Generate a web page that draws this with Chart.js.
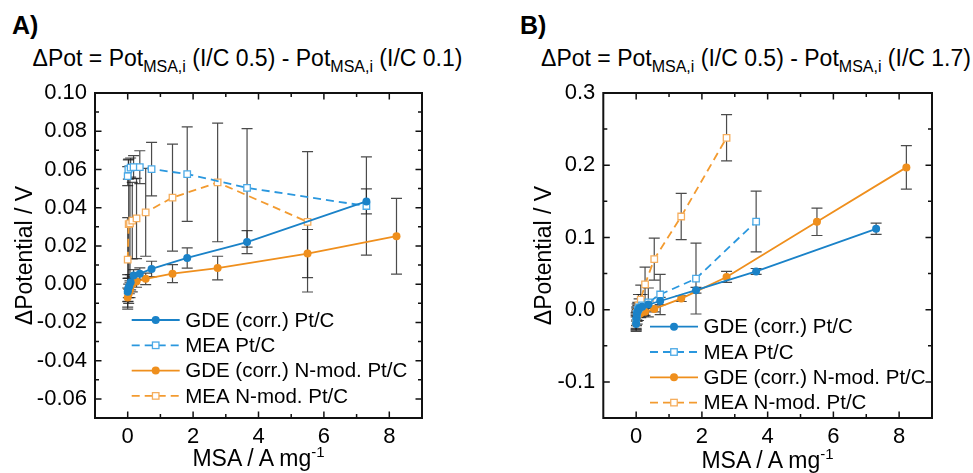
<!DOCTYPE html>
<html>
<head>
<meta charset="utf-8">
<script src="https://cdn.jsdelivr.net/npm/chart.js@4.4.1/dist/chart.umd.min.js"></script>
<style>
  html, body { margin: 0; padding: 0; background: #fff; }
  body { width: 973px; height: 473px; position: relative; overflow: hidden;
         font-family: "Liberation Sans", Arial, sans-serif; color: #000; }
  canvas { position: absolute; top: 0; }
  .tag { position: absolute; font-weight: bold; font-size: 25px; line-height: 1; }
  .ttl, .xt { position: absolute; font-size: 23px; line-height: 1; white-space: nowrap; transform: translateX(-50%); }
  .ttl sub { font-size: 16px; vertical-align: -6px; line-height: 0; }
  .xt sup { font-size: 15px; vertical-align: 9px; line-height: 0; }
</style>
</head>
<body>
<div class="tag" style="left:12px; top:13px">A)</div>
<div class="tag" style="left:520px; top:13px">B)</div>
<div class="ttl" style="left:247.5px; top:46.5px">&Delta;Pot = Pot<sub>MSA,i</sub> (I/C 0.5) - Pot<sub>MSA,i</sub> (I/C 0.1)</div>
<div class="ttl" style="left:756px; top:47px">&Delta;Pot = Pot<sub>MSA,i</sub> (I/C 0.5) - Pot<sub>MSA,i</sub> (I/C 1.7)</div>
<canvas id="chartA" width="486" height="473" style="left:0; width:486px; height:473px"></canvas>
<canvas id="chartB" width="487" height="473" style="left:486px; width:487px; height:473px"></canvas>
<div class="xt" style="left:258.5px; top:447px">MSA / A mg<sup>-1</sup></div>
<div class="xt" style="left:767.5px; top:449px">MSA / A mg<sup>-1</sup></div>
<script>
const FONT = '"Liberation Sans", Arial, sans-serif';

// axes
const xRange = [-1, 9];
const xTicks = [0, 2, 4, 6, 8];
const xTickLabels = ['0', '2', '4', '6', '8'];

const yRangeA = [-0.07, 0.10];
const yTicksA = [-0.06, -0.04, -0.02, 0, 0.02, 0.04, 0.06, 0.08, 0.10];
const yTickLabelsA = ['-0.06', '-0.04', '-0.02', '0.00', '0.02', '0.04', '0.06', '0.08', '0.10'];

const yRangeB = [-0.15, 0.3];
const yTicksB = [-0.1, 0, 0.1, 0.2, 0.3];
const yTickLabelsB = ['-0.1', '0.0', '0.1', '0.2', '0.3'];

const seriesNames = ['GDE (corr.) Pt/C', 'MEA Pt/C', 'GDE (corr.) N-mod. Pt/C', 'MEA N-mod. Pt/C'];

// panel A: I/C 0.5 - I/C 0.1
const xGdePtA = [0, 0.01, 0.02, 0.05, 0.09, 0.18, 0.37, 0.73, 1.82, 3.65, 7.3];
const yGdePtA = [-0.004, -0.003, -0.002, -0.001, 0.001, 0.0046, 0.0055, 0.008, 0.0137, 0.022, 0.0433];
const eGdePtA = [0.009, 0.006, 0.005, 0.004, 0.004, 0.003, 0.003, 0.004, 0.0053, 0.006, 0.0065];

const xMeaPtA = [0, 0.02, 0.09, 0.18, 0.37, 0.73, 1.82, 3.65, 7.3];
const yMeaPtA = [0.0565, 0.06, 0.061, 0.0612, 0.0612, 0.0602, 0.0576, 0.0504, 0.0409];
const eMeaPtA = [0.005, 0.005, 0.005, 0.006, 0.0086, 0.014, 0.0247, 0.031, 0.0257];

const xGdeNA = [0, 0.03, 0.07, 0.14, 0.27, 0.55, 1.37, 2.75, 5.5, 8.22];
const yGdeNA = [-0.007, -0.005, -0.003, 0.0, 0.0014, 0.0028, 0.0055, 0.0084, 0.016, 0.0251];
const eGdeNA = [0.005, 0.005, 0.004, 0.004, 0.003, 0.003, 0.0047, 0.0062, 0.0126, 0.0198];

const xMeaNA = [0, 0.03, 0.07, 0.14, 0.27, 0.55, 1.37, 2.75, 5.5];
const yMeaNA = [0.0128, 0.0314, 0.0318, 0.0332, 0.0344, 0.0376, 0.0453, 0.0532, 0.0326];
const eMeaNA = [0.022, 0.034, 0.03, 0.02, 0.021, 0.023, 0.028, 0.031, 0.0367];

// panel B: I/C 0.5 - I/C 1.7
const xGdePtB = [0, 0.01, 0.02, 0.05, 0.09, 0.18, 0.37, 0.73, 1.82, 3.65, 7.3];
const yGdePtB = [-0.02, -0.012, -0.006, -0.002, 0.002, 0.004, 0.007, 0.012, 0.027, 0.053, 0.112];
const eGdePtB = [0.01, 0.01, 0.008, 0.008, 0.006, 0.005, 0.005, 0.005, 0.004, 0.004, 0.0077];

const xMeaPtB = [0, 0.02, 0.05, 0.09, 0.18, 0.37, 0.73, 1.82, 3.65];
const yMeaPtB = [-0.016, -0.006, 0.0, 0.003, 0.006, 0.01, 0.021, 0.043, 0.122];
const eMeaPtB = [0.01, 0.01, 0.01, 0.012, 0.015, 0.02, 0.028, 0.049, 0.042];

const xGdeNB = [0, 0.03, 0.07, 0.14, 0.27, 0.55, 1.37, 2.75, 5.5, 8.22];
const yGdeNB = [-0.016, -0.01, -0.007, -0.005, -0.003, 0.001, 0.0153, 0.0453, 0.1217, 0.197];
const eGdeNB = [0.012, 0.01, 0.008, 0.006, 0.005, 0.004, 0.004, 0.0076, 0.019, 0.03];

const xMeaNB = [0, 0.03, 0.07, 0.14, 0.27, 0.55, 1.37, 2.75];
const yMeaNB = [-0.018, -0.004, 0.006, 0.014, 0.035, 0.07, 0.129, 0.238];
const eMeaNB = [0.01, 0.012, 0.015, 0.02, 0.024, 0.029, 0.032, 0.032];

const looks = [
  { color: '#1a82c8', dash: [], point: 'circle', fill: '#1a82c8', edge: '#1a82c8' },
  { color: '#2a97de', dash: [8, 5], point: 'rect', fill: '#ffffff', edge: '#4ba9e6' },
  { color: '#ef8f1d', dash: [], point: 'circle', fill: '#ef8f1d', edge: '#ef8f1d' },
  { color: '#f39b30', dash: [8, 5], point: 'rect', fill: '#ffffff', edge: '#f5ae5e' }
];

function series(i, xs, ys, errs) {
  const s = looks[i];
  const square = s.point === 'rect';
  return {
    label: seriesNames[i],
    data: xs.map((x, j) => ({ x, y: ys[j] })),
    errs,
    showLine: true,
    borderColor: s.color,
    borderWidth: 1.8,
    borderDash: s.dash,
    pointStyle: s.point,
    pointRadius: square ? 4.6 : 4,
    pointBackgroundColor: s.fill,
    pointBorderColor: s.edge,
    pointBorderWidth: square ? 1.3 : 0
  };
}

function minorsOf(scale) {
  const v = scale.ticks.map(t => t.value);
  const step = v[1] - v[0];
  const out = [];
  for (let i = 0; i < v.length - 1; i++) out.push((v[i] + v[i + 1]) / 2);
  if (v[0] - step / 2 > scale.min + 1e-9) out.push(v[0] - step / 2);
  if (v[v.length - 1] + step / 2 < scale.max - 1e-9) out.push(v[v.length - 1] + step / 2);
  return out;
}

// error bars under the markers, then legend and the closed box on top
const plotDecor = {
  id: 'plotDecor',
  beforeDatasetsDraw(chart) {
    const { ctx, chartArea: a } = chart;
    const sx = chart.scales.x, sy = chart.scales.y;
    ctx.save();
    ctx.beginPath();
    ctx.rect(a.left, a.top, a.right - a.left, a.bottom - a.top);
    ctx.clip();
    ctx.strokeStyle = 'rgba(35,35,35,0.82)';
    ctx.lineWidth = 1.2;
    chart.data.datasets.forEach(ds => {
      ds.data.forEach((p, j) => {
        const e = ds.errs[j];
        const px = sx.getPixelForValue(p.x);
        const top = sy.getPixelForValue(p.y + e);
        const bot = sy.getPixelForValue(p.y - e);
        ctx.beginPath();
        ctx.moveTo(px, top); ctx.lineTo(px, bot);
        ctx.moveTo(px - 5.5, top); ctx.lineTo(px + 5.5, top);
        ctx.moveTo(px - 5.5, bot); ctx.lineTo(px + 5.5, bot);
        ctx.stroke();
      });
    });
    ctx.restore();
  },
  afterDatasetsDraw(chart, args, opts) {
    drawLegend(chart, opts);
    drawBox(chart);
  }
};

function drawBox(chart) {
  const { ctx, chartArea: a } = chart;
  const sx = chart.scales.x, sy = chart.scales.y;
  ctx.save();
  ctx.setLineDash([]);
  ctx.strokeStyle = '#111';
  ctx.lineWidth = 1.5;
  const onX = (vals, len) => vals.forEach(v => {
    const p = sx.getPixelForValue(v);
    ctx.beginPath();
    ctx.moveTo(p, a.bottom); ctx.lineTo(p, a.bottom - len);
    ctx.moveTo(p, a.top); ctx.lineTo(p, a.top + len);
    ctx.stroke();
  });
  const onY = (vals, len) => vals.forEach(v => {
    const p = sy.getPixelForValue(v);
    ctx.beginPath();
    ctx.moveTo(a.left, p); ctx.lineTo(a.left + len, p);
    ctx.moveTo(a.right, p); ctx.lineTo(a.right - len, p);
    ctx.stroke();
  });
  onX(sx.ticks.map(t => t.value), 6.5);
  onX(minorsOf(sx), 4);
  onY(sy.ticks.map(t => t.value), 6.5);
  onY(minorsOf(sy), 4);
  ctx.lineWidth = 2;
  ctx.strokeRect(a.left, a.top, a.right - a.left, a.bottom - a.top);
  ctx.restore();
}

// legend drawn inside the plot box
function drawLegend(chart, opts) {
  const { ctx, chartArea: a } = chart;
  ctx.save();
  ctx.font = '20.5px ' + FONT;
  ctx.textBaseline = 'middle';
  chart.data.datasets.forEach((ds, i) => {
    const y0 = a.top + opts.dy + i * 25.3;
    const x0 = a.left + opts.dx;
    ctx.strokeStyle = ds.borderColor;
    ctx.lineWidth = ds.borderWidth;
    ctx.setLineDash(ds.borderDash);
    ctx.beginPath();
    ctx.moveTo(x0, y0); ctx.lineTo(x0 + 48, y0);
    ctx.stroke();
    ctx.setLineDash([]);
    const cx = x0 + 24;
    if (ds.pointStyle === 'rect') {
      const h = ds.pointRadius / Math.SQRT2;
      ctx.fillStyle = '#fff';
      ctx.fillRect(cx - h, y0 - h, 2 * h, 2 * h);
      ctx.strokeStyle = ds.pointBorderColor;
      ctx.lineWidth = ds.pointBorderWidth;
      ctx.strokeRect(cx - h, y0 - h, 2 * h, 2 * h);
    } else {
      ctx.fillStyle = ds.pointBackgroundColor;
      ctx.beginPath();
      ctx.arc(cx, y0, ds.pointRadius, 0, Math.PI * 2);
      ctx.fill();
    }
    ctx.fillStyle = '#000';
    ctx.fillText(ds.label, x0 + 53.5, y0 + 1);
  });
  ctx.restore();
}

function panel(id, datasets, yRange, yTicks, yLabels, lay, legendPos) {
  return new Chart(document.getElementById(id), {
    type: 'scatter',
    data: { datasets },
    plugins: [plotDecor],
    options: {
      responsive: false,
      animation: false,
      layout: { padding: lay.pad },
      plugins: {
        legend: { display: false },
        tooltip: { enabled: false },
        plotDecor: legendPos
      },
      scales: {
        x: {
          type: 'linear',
          min: xRange[0],
          max: xRange[1],
          grid: { display: false, drawTicks: false },
          border: { display: false },
          afterBuildTicks: s => { s.ticks = xTicks.map(v => ({ value: v })); },
          afterFit: s => { s.height = lay.xh; },
          ticks: {
            autoSkip: false, maxRotation: 0, padding: 6, color: '#000',
            font: { size: 22, family: FONT },
            callback: (v, i) => xTickLabels[i]
          }
        },
        y: {
          type: 'linear',
          min: yRange[0],
          max: yRange[1],
          grid: { display: false, drawTicks: false },
          border: { display: false },
          afterBuildTicks: s => { s.ticks = yTicks.map(v => ({ value: v })); },
          afterFit: s => { s.width = lay.yw; },
          ticks: {
            autoSkip: false, padding: 8, color: '#000',
            font: { size: 22, family: FONT },
            callback: (v, i) => yLabels[i]
          },
          title: {
            display: true,
            text: '\u0394Potential / V',
            color: '#000',
            font: { size: 23, family: FONT },
            padding: { top: 12, bottom: 0 }
          }
        }
      }
    }
  });
}

panel('chartA', [
  series(0, xGdePtA, yGdePtA, eGdePtA),
  series(1, xMeaPtA, yMeaPtA, eMeaPtA),
  series(2, xGdeNA, yGdeNA, eGdeNA),
  series(3, xMeaNA, yMeaNA, eMeaNA)
], yRangeA, yTicksA, yTickLabelsA,
  { pad: { left: 0, right: 64, top: 93, bottom: 0 }, xh: 55, yw: 95 },
  { dx: 36.7, dy: 227 });

panel('chartB', [
  series(0, xGdePtB, yGdePtB, eGdePtB),
  series(1, xMeaPtB, yMeaPtB, eMeaPtB),
  series(2, xGdeNB, yGdeNB, eGdeNB),
  series(3, xMeaNB, yMeaNB, eMeaNB)
], yRangeB, yTicksB, yTickLabelsB,
  { pad: { left: 33, right: 41, top: 93, bottom: 0 }, xh: 55, yw: 84.3 },
  { dx: 46.7, dy: 233.7 });
</script>
</body>
</html>
